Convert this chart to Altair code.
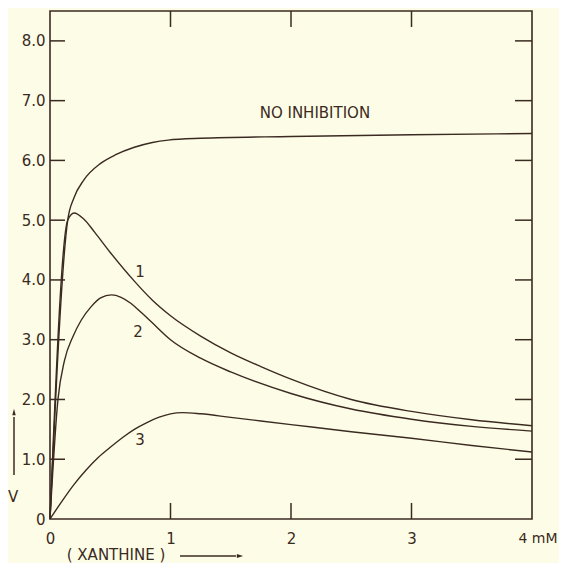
import altair as alt
import pandas as pd

# ---- data ----
series_names = ["none", "1", "2", "3"]

x_none = [0, 0.147, 0.2, 0.28, 0.42, 0.55, 0.7, 0.85, 0.98, 1.25, 2.0, 3.0, 4.0]
y_none = [0, 5.0, 5.38, 5.67, 5.95, 6.1, 6.22, 6.3, 6.34, 6.37, 6.4, 6.43, 6.45]

x_c1 = [0, 0.147, 0.2, 0.28, 0.37, 0.5, 0.7, 0.85, 1.0, 1.25, 1.5, 1.75, 2.0, 2.5, 3.0, 3.5, 4.0]
y_c1 = [0, 5.0, 5.12, 5.02, 4.8, 4.46, 3.98, 3.66, 3.4, 3.06, 2.78, 2.55, 2.34, 2.0, 1.8, 1.66, 1.56]

x_c2 = [0, 0.066, 0.12, 0.19, 0.26, 0.34, 0.42, 0.51, 0.59, 0.67, 0.76, 0.84, 1.0, 1.25, 1.5, 2.0, 2.5, 3.0, 3.5, 4.0]
y_c2 = [0, 2.0, 2.65, 3.05, 3.33, 3.55, 3.7, 3.75, 3.71, 3.61, 3.45, 3.3, 3.0, 2.69, 2.46, 2.1, 1.84, 1.67, 1.55, 1.47]

x_c3 = [0, 0.1, 0.2, 0.3, 0.4, 0.5, 0.6, 0.7, 0.8, 0.9, 1.0, 1.1, 1.25, 1.5, 2.0, 2.5, 3.0, 3.5, 4.0]
y_c3 = [0, 0.3, 0.58, 0.82, 1.03, 1.2, 1.36, 1.5, 1.61, 1.7, 1.76, 1.78, 1.76, 1.7, 1.58, 1.46, 1.35, 1.23, 1.12]

label_texts = ["NO INHIBITION", "1", "2", "3"]
label_x = [1.74, 0.747, 0.73, 0.747]
label_y = [6.8, 4.13, 3.13, 1.32]
label_align = ["left", "center", "center", "center"]

x_tick_values = [0, 1, 2, 3, 4]
y_tick_values = [0, 1, 2, 3, 4, 5, 6, 7, 8]
inner_x_ticks = [1, 2, 3]
inner_y_ticks = [1, 2, 3, 4, 5, 6, 7, 8]

x_title = "( XANTHINE )"
y_title = "V"

# ---- build tables ----
rows = []
for name, xs_, ys_ in zip(series_names, [x_none, x_c1, x_c2, x_c3], [y_none, y_c1, y_c2, y_c3]):
    for a, b in zip(xs_, ys_):
        rows.append({"series": name, "x": a, "y": b})
df = pd.DataFrame(rows)

lab_df = pd.DataFrame({"t": label_texts, "x": label_x, "y": label_y, "al": label_align})
xt_df = pd.DataFrame({"x": inner_x_ticks})
yt_df = pd.DataFrame({"y": inner_y_ticks})
one = pd.DataFrame({"a": [0]})

W, H = 482, 508
INK = "#3b2a22"
BG = "#FDFDE7"
FONT = "DejaVu Sans"
FS = 15

xsc = alt.Scale(domain=[0, 4], nice=False, zero=False)
ysc = alt.Scale(domain=[0, 8.5], nice=False, zero=False)

x_axis = alt.Axis(
    values=x_tick_values,
    labelExpr="datum.value == 4 ? '4 mM' : format(datum.value, 'd')",
    labelAlign={"condition": {"test": "datum.value == 4", "value": "right"}, "value": "center"},
    labelOffset={"condition": {"test": "datum.value == 4", "value": 25}, "value": 0},
    labelFontSize={"condition": {"test": "datum.value == 4", "value": 14}, "value": FS},
    ticks=False, tickSize=0, domain=False, grid=False, title=None,
    labelFont=FONT, labelColor=INK, labelPadding=12,
)
y_axis = alt.Axis(
    values=y_tick_values,
    labelExpr="datum.value == 0 ? '0' : format(datum.value, '.1f')",
    ticks=False, tickSize=0, domain=False, grid=False, title=None,
    labelFont=FONT, labelFontSize=FS, labelColor=INK, labelPadding=5,
)

lines = alt.Chart(df).mark_line(color=INK, strokeWidth=1.4, interpolate="monotone").encode(
    x=alt.X("x:Q", scale=xsc, axis=x_axis),
    y=alt.Y("y:Q", scale=ysc, axis=y_axis),
    detail="series:N",
)

labels_left = alt.Chart(lab_df[lab_df["al"] == "left"]).mark_text(
    font=FONT, fontSize=FS, color=INK, align="left", baseline="middle"
).encode(x=alt.X("x:Q", scale=xsc), y=alt.Y("y:Q", scale=ysc), text="t:N")

labels_center = alt.Chart(lab_df[lab_df["al"] == "center"]).mark_text(
    font=FONT, fontSize=FS, color=INK, align="center", baseline="middle"
).encode(x=alt.X("x:Q", scale=xsc), y=alt.Y("y:Q", scale=ysc), text="t:N")

tick_left = alt.Chart(yt_df).mark_rule(color=INK, strokeWidth=1.5).encode(
    y=alt.Y("y:Q", scale=ysc), x=alt.value(0), x2=alt.value(15))
tick_right = alt.Chart(yt_df).mark_rule(color=INK, strokeWidth=1.5).encode(
    y=alt.Y("y:Q", scale=ysc), x=alt.value(W - 17), x2=alt.value(W))
tick_bottom = alt.Chart(xt_df).mark_rule(color=INK, strokeWidth=1.5).encode(
    x=alt.X("x:Q", scale=xsc), y=alt.value(H - 16), y2=alt.value(H))
tick_top = alt.Chart(xt_df).mark_rule(color=INK, strokeWidth=1.5).encode(
    x=alt.X("x:Q", scale=xsc), y=alt.value(0), y2=alt.value(16))

# axis titles with arrows
v_text = alt.Chart(one).mark_text(font=FONT, fontSize=FS, color=INK, align="center", baseline="middle").encode(
    x=alt.value(-37), y=alt.value(486), text=alt.value(y_title))
v_line = alt.Chart(one).mark_rule(color=INK, strokeWidth=1.5).encode(
    x=alt.value(-36), y=alt.value(406), y2=alt.value(464))
v_head = alt.Chart(one).mark_point(shape="M0,-1L0.55,1L-0.55,1Z", filled=True, color=INK, opacity=1, size=40).encode(
    x=alt.value(-36), y=alt.value(401))

x_text = alt.Chart(one).mark_text(font=FONT, fontSize=FS, color=INK, align="center", baseline="middle").encode(
    x=alt.value(66), y=alt.value(544), text=alt.value(x_title))
x_line = alt.Chart(one).mark_rule(color=INK, strokeWidth=1.5).encode(
    x=alt.value(130), x2=alt.value(186), y=alt.value(545))
x_head = alt.Chart(one).mark_point(shape="M1,0L-1,-0.6L-1,0.6Z", filled=True, color=INK, opacity=1, size=40).encode(
    x=alt.value(190), y=alt.value(545))

chart = alt.layer(
    lines, labels_left, labels_center,
    tick_left, tick_right, tick_bottom, tick_top,
    v_text, v_line, v_head, x_text, x_line, x_head,
).properties(
    width=W, height=H,
    autosize=alt.AutoSizeParams(type="none"),
    padding={"left": 42, "top": 3, "right": 27, "bottom": 44},
    background=BG,
).configure_view(stroke=INK, strokeWidth=1.6)

chart.save("out.html", embed_options={"renderer": "svg", "actions": False})
